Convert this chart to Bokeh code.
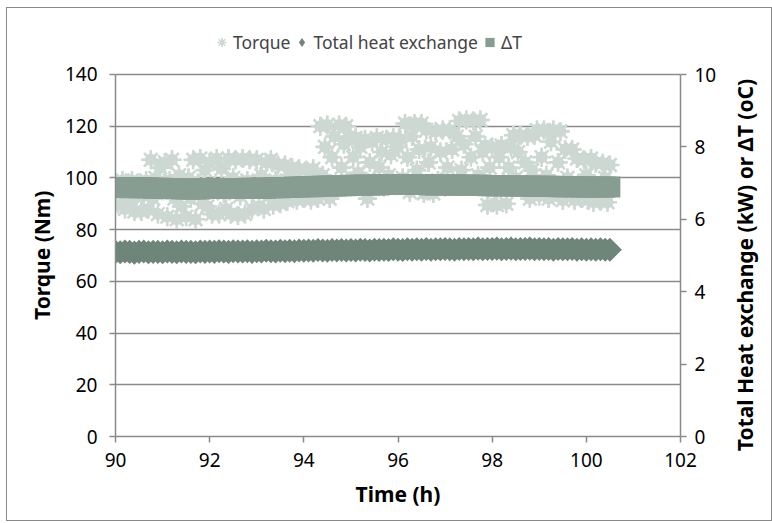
import math
from bokeh.plotting import figure
from bokeh.layouts import row
from bokeh.models import Range1d, LinearAxis, FixedTicker, Legend, LegendItem
from bokeh.core.properties import value
from bokeh.embed import file_html
from bokeh.resources import INLINE

# ---------------- data ----------------
x_ticks = [90, 92, 94, 96, 98, 100, 102]
y_left_ticks = [0, 20, 40, 60, 80, 100, 120, 140]
y_right_ticks = [0, 2, 4, 6, 8, 10]
left_title = "Torque (Nm)"
right_title = "Total Heat exchange (kW) or ΔT (oC)"
x_title = "Time (h)"

torque_start, torque_step = 90.0, 0.05
torque = [
    98, 90, 94, 99, 88, 95, 91, 99, 87, 93,
    97, 87, 93, 99, 88, 107, 92, 100, 86, 104,
    95, 106, 85, 99, 107, 92, 84, 101, 89, 96,
    85, 100, 92, 107, 84, 98, 107.5, 90, 103, 89,
    106, 86, 97, 107.5, 86, 103.5, 94, 88, 107.5, 86,
    100, 107, 85.5, 93, 107.5, 86, 99, 107, 88, 96,
    107, 89, 101, 88, 106, 93, 107, 89.5, 99, 105,
    90, 97, 105, 91, 101, 104, 93, 91.5, 103.5, 97,
    92, 103, 96, 91.5, 103.5, 98, 92, 120, 101, 112,
    120.5, 92, 108, 116, 97, 120.5, 104, 113, 120, 115.5,
    98, 108, 115.5, 102, 112, 96, 115, 92, 106, 114,
    99, 115.5, 104, 110, 96.5, 115, 101, 109, 115.5, 97,
    112, 115, 100, 121, 108, 94.5, 116, 121, 103, 111,
    121, 94, 118.5, 106, 112, 94, 118, 99, 110, 118.5,
    96.5, 104, 118.5, 111, 97, 116, 122, 103, 113, 122.4,
    97, 108, 122, 116, 101, 122.4, 110, 112.5, 89.5, 104,
    112, 95, 89.5, 108, 112.5, 98, 90, 104, 112, 116.5,
    100, 110, 116.5, 97, 106, 116, 92, 103, 116.5, 118.5,
    93, 108, 118.5, 101, 92, 114, 118.5, 94.4, 106, 118,
    91.4, 111, 100, 95, 111, 91.4, 107.5, 98, 92, 107,
    101, 91.4, 107.5, 90.6, 105.7, 97, 91, 105.7, 100, 90.6,
    105,
]
torque_time = [round(torque_start + torque_step * i, 2) for i in range(len(torque))]

band_start, band_step = 90.0, 0.1
heat = [
    5.10, 5.09, 5.11, 5.10, 5.08, 5.10, 5.11, 5.09, 5.10, 5.10,
    5.09, 5.11, 5.10, 5.09, 5.11, 5.10, 5.10, 5.09, 5.11, 5.10,
    5.11, 5.10, 5.12, 5.11, 5.10, 5.12, 5.11, 5.11, 5.12, 5.10,
    5.12, 5.11, 5.13, 5.12, 5.11, 5.13, 5.12, 5.13, 5.12, 5.14,
    5.13, 5.14, 5.13, 5.15, 5.14, 5.13, 5.15, 5.14, 5.15, 5.14,
    5.15, 5.14, 5.16, 5.15, 5.14, 5.16, 5.15, 5.16, 5.15, 5.17,
    5.16, 5.15, 5.17, 5.16, 5.17, 5.16, 5.18, 5.16, 5.17, 5.17,
    5.18, 5.17, 5.16, 5.18, 5.17, 5.18, 5.17, 5.19, 5.17, 5.18,
    5.18, 5.19, 5.17, 5.18, 5.19, 5.17, 5.18, 5.18, 5.19, 5.17,
    5.18, 5.17, 5.18, 5.16, 5.18, 5.17, 5.17, 5.18, 5.16, 5.17,
    5.16, 5.17, 5.16, 5.17, 5.16, 5.16,
]
delta_t = [
    6.88, 6.88, 6.88, 6.87, 6.88, 6.87, 6.87, 6.87, 6.86, 6.86,
    6.86, 6.85, 6.85, 6.85, 6.84, 6.84, 6.84, 6.84, 6.84, 6.85,
    6.85, 6.85, 6.85, 6.85, 6.85, 6.85, 6.85, 6.85, 6.86, 6.86,
    6.86, 6.86, 6.86, 6.87, 6.87, 6.87, 6.88, 6.88, 6.89, 6.89,
    6.90, 6.90, 6.90, 6.91, 6.91, 6.92, 6.92, 6.92, 6.93, 6.93,
    6.94, 6.94, 6.94, 6.95, 6.95, 6.95, 6.95, 6.96, 6.96, 6.96,
    6.96, 6.96, 6.96, 6.96, 6.96, 6.96, 6.96, 6.95, 6.95, 6.95,
    6.95, 6.95, 6.95, 6.95, 6.94, 6.94, 6.94, 6.94, 6.94, 6.93,
    6.93, 6.93, 6.93, 6.93, 6.92, 6.92, 6.92, 6.92, 6.92, 6.91,
    6.91, 6.91, 6.91, 6.91, 6.90, 6.90, 6.90, 6.90, 6.90, 6.89,
    6.89, 6.89, 6.89, 6.89, 6.89, 6.89,
]
band_time = [round(band_start + band_step * i, 2) for i in range(len(heat))]

# ---------------- styles ----------------
TORQUE_C = "#cdd8d3"
DT_C = "#879d92"
HEAT_C = "#6e8579"
AXIS_C = "#8a8a8a"
FONT = "Noto Sans"
H = 512
LEFT_W, MAIN_W, RIGHT_W = 54, 668, 42

p = figure(width=MAIN_W, height=H, output_backend="svg", toolbar_location=None,
           x_range=Range1d(90, 102), y_range=Range1d(0, 159.72),
           min_border_left=52, min_border_right=49,
           min_border_top=15, min_border_bottom=84)
p.extra_y_ranges = {"right": Range1d(0, 11.409)}
p.outline_line_color = None
p.background_fill_color = "white"
p.border_fill_color = "white"

p.xgrid.visible = False
p.ygrid.grid_line_color = AXIS_C
p.ygrid.grid_line_width = 1.5

def style_axis(ax):
    ax.axis_line_color = AXIS_C
    ax.axis_line_width = 1.5
    ax.major_tick_line_color = AXIS_C
    ax.major_tick_line_width = 1.5
    ax.major_tick_out = 6
    ax.major_tick_in = 0
    ax.minor_tick_line_color = None
    ax.major_label_text_font = FONT
    ax.major_label_text_font_size = "19px"
    ax.major_label_text_color = "black"
    ax.axis_label_text_font = FONT
    ax.axis_label_text_font_size = "21px"
    ax.axis_label_text_font_style = "bold"
    ax.axis_label_text_color = "black"

xa = p.xaxis[0]
xa.ticker = FixedTicker(ticks=x_ticks)
xa.axis_label = x_title
xa.major_label_standoff = 10
xa.axis_label_standoff = 10
style_axis(xa)

ya = p.yaxis[0]
ya.ticker = FixedTicker(ticks=y_left_ticks)
ya.bounds = (0, 140)
ya.major_label_standoff = 12
style_axis(ya)

yr = LinearAxis(y_range_name="right", ticker=FixedTicker(ticks=y_right_ticks),
                bounds=(0, 10))
yr.major_label_standoff = 8
style_axis(yr)
p.add_layout(yr, "right")

# torque: star markers over a filled core of the same points (dense cloud)
p.scatter(torque_time, torque, marker="circle", size=12,
          fill_color=TORQUE_C, line_color=None)
p.scatter(torque_time, torque, marker="asterisk", size=19,
          line_color=TORQUE_C, line_width=2.6)
r_t = p.scatter(torque_time, torque, marker="asterisk", size=19,
                line_color=TORQUE_C, line_width=1.6)
r_dt = p.scatter(band_time, delta_t, marker="square", size=21,
                 fill_color=DT_C, line_color=None, y_range_name="right")
p.scatter(band_time, heat, marker="square", size=17, angle=math.pi / 4,
          fill_color=HEAT_C, line_color=None, y_range_name="right")
r_h = p.scatter(band_time, heat, marker="diamond", size=22,
                fill_color=HEAT_C, line_color=None, y_range_name="right")

legend = Legend(items=[LegendItem(label="Torque", renderers=[r_t]),
                       LegendItem(label="Total heat exchange", renderers=[r_h]),
                       LegendItem(label="ΔT", renderers=[r_dt])],
                orientation="horizontal", location=(95, 380),
                border_line_color=None, background_fill_alpha=0,
                label_text_font=FONT, label_text_font_size="17.5px",
                glyph_width=23, glyph_height=28, label_standoff=0,
                spacing=0, padding=0, margin=0)
p.add_layout(legend, "center")

# axis titles (drawn in narrow side figures so they read bottom-to-top)
def title_fig(width, x_frac, y_frac, txt):
    f = figure(width=width, height=H, output_backend="svg", toolbar_location=None,
               x_range=Range1d(0, 1), y_range=Range1d(0, 1),
               x_axis_type=None, y_axis_type=None,
               min_border_left=0, min_border_right=0,
               min_border_top=0, min_border_bottom=0)
    if "frame_align" in f.properties():
        f.frame_align = False
    f.outline_line_color = None
    f.grid.visible = False
    f.border_fill_color = "white"
    f.text(x=[x_frac], y=[y_frac], text=[txt], angle=math.pi / 2,
           text_align="center", text_baseline="middle",
           text_font=value(FONT), text_font_style="bold",
           text_font_size="21px", text_color="black")
    return f

tl = title_fig(LEFT_W, 0.648, 0.518, left_title)
tr = title_fig(RIGHT_W, 0.38, 0.499, right_title)
if "frame_align" in p.properties():
    p.frame_align = False

layout = row(tl, p, tr, spacing=0)
layout.styles = {"border": "1px solid #8a8a8a", "margin-left": "6px",
                 "margin-top": "7px"}

open("out.html", "w").write(file_html(layout, INLINE))
